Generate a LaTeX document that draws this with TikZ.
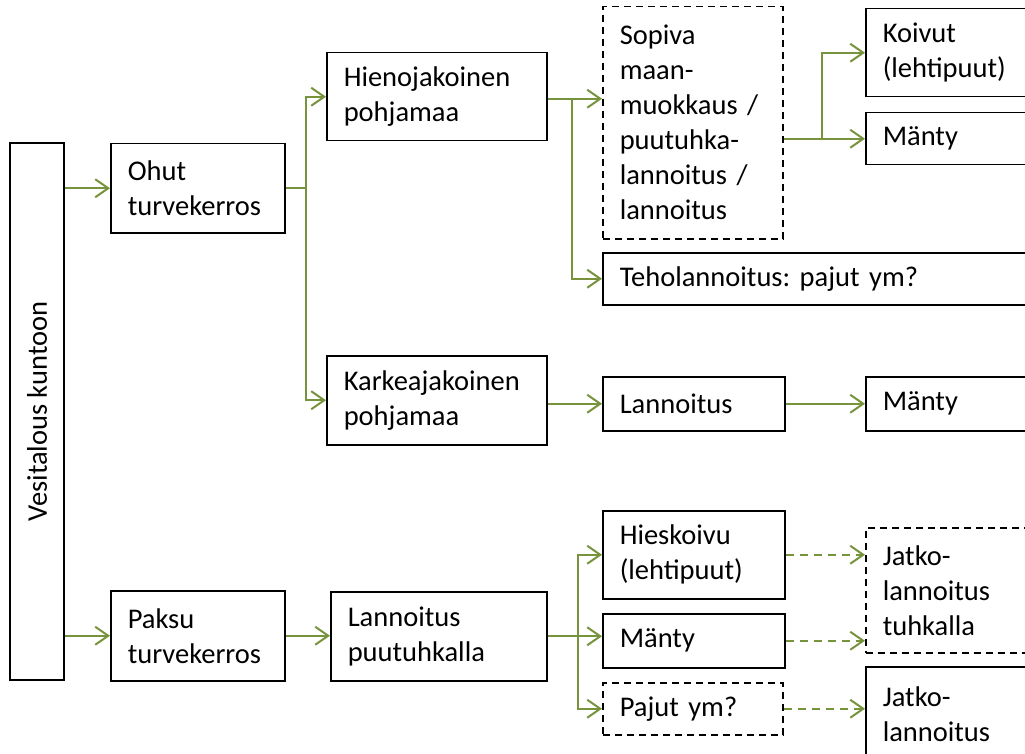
\documentclass[tikz,border=0pt]{standalone}
\usepackage{fontspec}
\setmainfont{Carlito}
\usepackage{tikz}
\usetikzlibrary{arrows.meta,positioning,calc}
\definecolor{olivegreen}{HTML}{77933C}
\frenchspacing

\begin{document}
\begin{tikzpicture}[
  x=1pt, y=-1pt,
  font=\fontsize{28.5}{35}\selectfont,
  box/.style={draw, line width=1.5pt, anchor=north west, align=left, inner xsep=17pt, inner ysep=0pt},
  dashbox/.style={box, dash pattern=on 7pt off 5pt},
  flow/.style={draw=olivegreen, line width=2pt, -{Straight Barb[length=13pt,width=18pt]}},
  maybeflow/.style={flow, dash pattern=on 8pt off 6pt},
]
\useasboundingbox (0,0) rectangle (1025,754);

% Nodes
\node[box, rotate=90, anchor=center, align=center, minimum width=537pt, minimum height=54pt] (vesi) at (37,411.5) {Vesitalous kuntoon};

\node[box, text width=140pt, minimum height=89pt] (ohut) at (110,143) {Ohut\\turvekerros};
\node[box, text width=140pt, minimum height=90pt] (paksu) at (110,590) {Paksu\\turvekerros};

\node[box, text width=186pt, minimum height=88pt] (hieno) at (326,52) {Hienojakoinen\\pohjamaa};
\node[box, text width=186pt, minimum height=89pt] (karkea) at (326,355) {Karkeajakoinen\\pohjamaa};
\node[box, text width=182pt, minimum height=89pt] (puutuhka) at (330,591) {Lannoitus\\puutuhkalla};

\node[dashbox, text width=146pt, minimum height=232pt] (sopiva) at (602,6) {Sopiva\\maan-\\muokkaus /\\puutuhka-\\lannoitus /\\lannoitus};
\node[box, text width=406pt, minimum height=52pt] (teho) at (602,252) {Teholannoitus: pajut ym?};
\node[box, text width=148pt, minimum height=54pt] (lann) at (602,376) {Lannoitus};
\node[box, text width=148pt, minimum height=88pt] (hies) at (602,510) {Hieskoivu\\(lehtipuut)};
\node[box, text width=148pt, minimum height=54pt] (manty3) at (602,613) {Mänty};
\node[dashbox, text width=146pt, minimum height=52pt] (pajut) at (602,682) {Pajut ym?};

\node[box, text width=166pt, minimum height=88pt] (koivut) at (865,8) {Koivut\\(lehtipuut)};
\node[box, text width=166pt, minimum height=52pt] (manty1) at (865,112) {Mänty};
\node[box, text width=166pt, minimum height=54pt] (manty2) at (865,376) {Mänty};
\node[dashbox, text width=166pt, minimum height=125pt] (jatko1) at (865,527) {Jatko-\\lannoitus\\tuhkalla};
\node[box, text width=166pt, minimum height=94pt] (jatko2) at (865,666) {Jatko-\\lannoitus};

% Lines
\draw[flow] (vesi.south |- ohut.west) -- (ohut.west);
\draw[flow] (vesi.south |- paksu.west) -- (paksu.west);

\draw[flow] (ohut.east) -- ++(20,0) |- (hieno.west);
\draw[flow] (ohut.east) -- ++(20,0) |- (karkea.west);

\draw[flow] ($(hieno.east)+(0,2)$) -- ($(hieno.east -| sopiva.west)+(0,2)$);
\draw[flow] ($(hieno.east)+(0,2)$) -- ++(24,0) |- (teho.west);

\draw[flow] (manty1.west -| sopiva.east) -- (manty1.west);
\draw[flow] (manty1.west -| sopiva.east) -- ++(38,0) |- (koivut.west);

\draw[flow] (karkea.east |- lann.west) -- (lann.west);
\draw[flow] (lann.east) -- (manty2.west);

\draw[flow] (paksu.east) -- (paksu.east -| puutuhka.west);

\draw[flow] (puutuhka.east) -- ++(30,0) |- (hies.west);
\draw[flow] (puutuhka.east) -- (puutuhka.east -| manty3.west);
\draw[flow] (puutuhka.east) -- ++(30,0) |- (pajut.west);

\draw[maybeflow] (hies.east) -- (hies.east -| jatko1.west);
\draw[maybeflow] (manty3.east) -- (manty3.east -| jatko1.west);
\draw[maybeflow] (pajut.east) -- (pajut.east -| jatko2.west);

\end{tikzpicture}
\end{document}
